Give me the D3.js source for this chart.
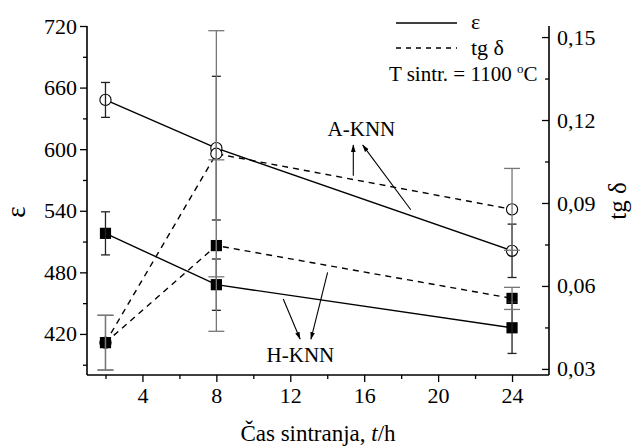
<!DOCTYPE html>
<html>
<head>
<meta charset="utf-8">
<script src="https://cdn.jsdelivr.net/npm/d3@7"></script>
<style>
  body { margin: 0; background: #fff; }
  svg text { font-family: "Liberation Serif", "Times New Roman", serif; fill: #000; }
</style>
</head>
<body>
<svg id="chart"></svg>
<script>
// sintering time (h)
const hours = [2, 8, 24];

// permittivity, A-KNN (open circles) and H-KNN (filled squares)
const epsA = [648, 601, 501];
const epsAErr = [17, 70, 26];
const epsH = [518, 468, 426];
const epsHErr = [21, 25, 25];

// loss tangent
const tanA = [0.0395, 0.1078, 0.0877];
const tanAErr = [0.0099, 0.0445, 0.0148];
const tanH = [0.0395, 0.0746, 0.0555];
const tanHErr = [0.0099, 0.031, 0.004];

const xTicks = [4, 8, 12, 16, 20, 24];
const xMinor = [2, 6, 10, 14, 18, 22];
const epsTicks = [420, 480, 540, 600, 660, 720];
const epsMinor = [390, 450, 510, 570, 630, 690];
const tanTicks = [0.03, 0.06, 0.09, 0.12, 0.15];
const tanMinor = [0.045, 0.075, 0.105, 0.135];

const W = 640, H = 446;
const margin = { left: 87, right: 91, top: 26, bottom: 71 };

const svg = d3.select('#chart').attr('width', W).attr('height', H);

const x = d3.scaleLinear().domain([1, 26]).range([margin.left, W - margin.right]);
const yEps = d3.scaleLinear().domain([380, 720]).range([H - margin.bottom, margin.top]);
const yTan = d3.scaleLinear().domain([0.0278, 0.154]).range([H - margin.bottom, margin.top]);

const fmtComma = d => d3.format('.2f')(d).replace('.', ',');

// axes (left, bottom, right only - no top frame)
const xAxis = svg.append('g').attr('transform', `translate(0,${yEps.range()[0]})`);
xAxis.call(d3.axisBottom(x).tickValues(xTicks).tickSize(7).tickPadding(5));
xAxis.append('g').call(d3.axisBottom(x).tickValues(xMinor).tickSize(4).tickFormat(''));

const yAxisL = svg.append('g').attr('transform', `translate(${margin.left},0)`);
yAxisL.call(d3.axisLeft(yEps).tickValues(epsTicks).tickSize(7).tickPadding(3));
yAxisL.append('g').call(d3.axisLeft(yEps).tickValues(epsMinor).tickSize(4).tickFormat(''));

const yAxisR = svg.append('g').attr('transform', `translate(${W - margin.right},0)`);
yAxisR.call(d3.axisRight(yTan).tickValues(tanTicks).tickSize(-7).tickPadding(8).tickFormat(fmtComma));
yAxisR.append('g').call(d3.axisRight(yTan).tickValues(tanMinor).tickSize(-4).tickFormat(''));

svg.selectAll('.tick line').attr('stroke', '#000').attr('stroke-width', 1.3);
svg.selectAll('.tick text')
  .style('font-family', '"Liberation Serif", serif')
  .style('font-size', '22px')
  .attr('fill', '#000');

// plain domain lines without end ticks
svg.selectAll('g g .domain').remove();
xAxis.select('.domain').attr('d', `M${x.range()[0]},0H${x.range()[1]}`);
yAxisL.select('.domain').attr('d', `M0,${yEps.range()[0]}V${yEps.range()[1]}`);
yAxisR.select('.domain').attr('d', `M0,${yEps.range()[0]}V${yEps.range()[1]}`);
svg.selectAll('.domain').attr('stroke', '#000').attr('stroke-width', 1.6);

// axis titles
svg.append('text')
  .attr('x', (x.range()[0] + x.range()[1]) / 2)
  .attr('y', 441)
  .attr('text-anchor', 'middle')
  .style('font-size', '23px')
  .html('Čas sintranja, <tspan font-style="italic">t</tspan>/h');

svg.append('text')
  .attr('transform', 'translate(25,212) rotate(-90)')
  .attr('text-anchor', 'middle')
  .style('font-size', '27px')
  .text('ε');

svg.append('text')
  .attr('transform', 'translate(626,201) rotate(-90)')
  .attr('text-anchor', 'middle')
  .style('font-size', '25px')
  .text('tg δ');

// series
const series = [
  { vals: epsA, err: epsAErr, y: yEps, dash: null, marker: 'circle', errCol: '#222', cap: 4.5 },
  { vals: epsH, err: epsHErr, y: yEps, dash: null, marker: 'square', errCol: '#222', cap: 4.5 },
  { vals: tanA, err: tanAErr, y: yTan, dash: '6,5', marker: 'circle', errCol: '#777', cap: 8 },
  { vals: tanH, err: tanHErr, y: yTan, dash: '6,5', marker: 'square', errCol: '#777', cap: 8 }
];

const line = s => d3.line().x((d, i) => x(hours[i])).y(d => s.y(d));

series.forEach(s => {
  svg.append('path')
    .datum(s.vals)
    .attr('d', line(s))
    .attr('fill', 'none')
    .attr('stroke', '#000')
    .attr('stroke-width', 1.4)
    .attr('stroke-dasharray', s.dash);
});

series.forEach(s => {
  const g = svg.append('g');
  if (s.marker === 'circle') {
    g.selectAll('circle').data(s.vals).join('circle')
      .attr('cx', (d, i) => x(hours[i]))
      .attr('cy', d => s.y(d))
      .attr('r', 5.6)
      .attr('fill', '#fff')
      .attr('stroke', '#000')
      .attr('stroke-width', 1.1);
  } else {
    g.selectAll('rect').data(s.vals).join('rect')
      .attr('x', (d, i) => x(hours[i]) - 5.6)
      .attr('y', d => s.y(d) - 5.6)
      .attr('width', 11.2)
      .attr('height', 11.2)
      .attr('fill', '#000');
  }
});

// error bars on top of the markers
series.forEach(s => {
  const g = svg.append('g').attr('stroke', s.errCol).attr('stroke-width', 1.3);
  s.vals.forEach((v, i) => {
    const cx = x(hours[i]);
    const top = s.y(v + s.err[i]);
    const bot = s.y(v - s.err[i]);
    g.append('line').attr('x1', cx).attr('x2', cx).attr('y1', top).attr('y2', bot);
    g.append('line').attr('x1', cx - s.cap).attr('x2', cx + s.cap).attr('y1', top).attr('y2', top);
    g.append('line').attr('x1', cx - s.cap).attr('x2', cx + s.cap).attr('y1', bot).attr('y2', bot);
  });
});

// legend
const legend = svg.append('g');
legend.append('line').attr('x1', 396).attr('x2', 457).attr('y1', 23).attr('y2', 23)
  .attr('stroke', '#000').attr('stroke-width', 1.4);
legend.append('text').attr('x', 471).attr('y', 29).style('font-size', '22px').text('ε');
legend.append('line').attr('x1', 396).attr('x2', 457).attr('y1', 48).attr('y2', 48)
  .attr('stroke', '#000').attr('stroke-width', 1.4).attr('stroke-dasharray', '5,5');
legend.append('text').attr('x', 471).attr('y', 55).style('font-size', '22px').text('tg δ');
legend.append('text').attr('x', 389).attr('y', 81).style('font-size', '21px')
  .html('T sintr. = 1100 <tspan dy="-8" font-size="13px">o</tspan><tspan dy="8">C</tspan>');

// annotations with arrows, placed in data units
svg.append('defs').append('marker')
  .attr('id', 'arrow')
  .attr('viewBox', '0 0 10 10')
  .attr('refX', 9).attr('refY', 5)
  .attr('markerWidth', 7).attr('markerHeight', 7)
  .attr('orient', 'auto')
  .append('path').attr('d', 'M0,2 L10,5 L0,8 Z').attr('fill', '#000');

const labels = [
  { text: 'A-KNN', x: 15.85, y: 613 },
  { text: 'H-KNN', x: 12.55, y: 393 }
];
const arrows = [
  { from: [15.41, 574], to: [15.41, 604] },
  { from: [18.52, 541], to: [15.92, 604] },
  { from: [11.62, 454], to: [12.53, 415] },
  { from: [14.02, 480], to: [13.12, 415] }
];

labels.forEach(l => {
  svg.append('text')
    .attr('x', x(l.x)).attr('y', yEps(l.y))
    .attr('text-anchor', 'middle')
    .style('font-size', '21px')
    .text(l.text);
});

arrows.forEach(a => {
  svg.append('line')
    .attr('x1', x(a.from[0])).attr('y1', yEps(a.from[1]))
    .attr('x2', x(a.to[0])).attr('y2', yEps(a.to[1]))
    .attr('stroke', '#000').attr('stroke-width', 1.1)
    .attr('marker-end', 'url(#arrow)');
});
</script>
</body>
</html>
